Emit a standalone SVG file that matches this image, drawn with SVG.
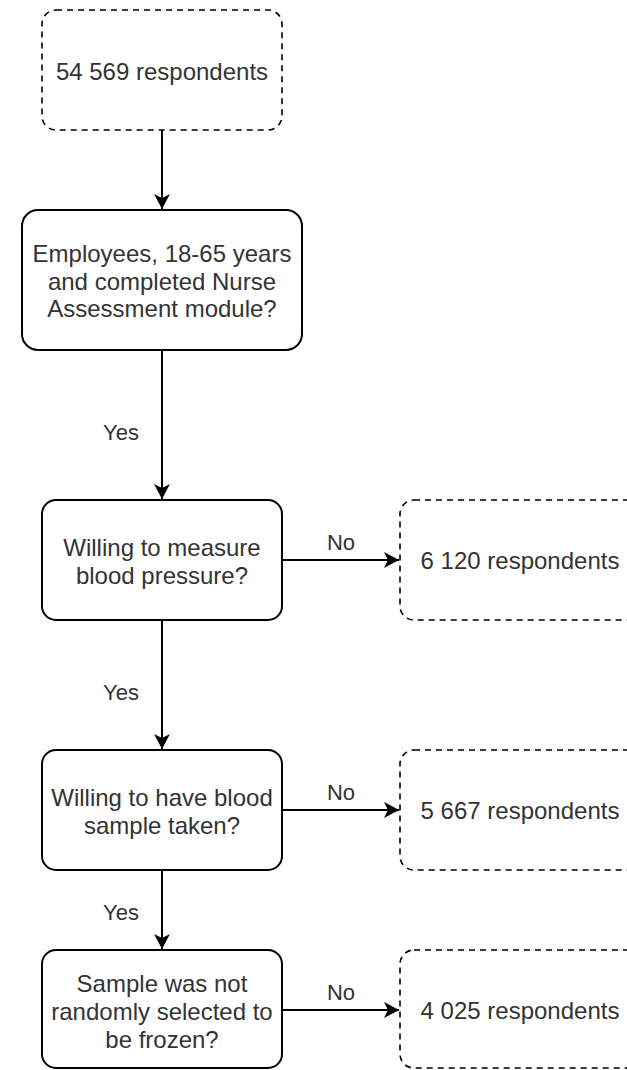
<svg xmlns="http://www.w3.org/2000/svg" width="627" height="1070" viewBox="0 0 627 1070">
<style>
.box{fill:#fff;stroke:#000;stroke-width:2}
.dash{fill:#fff;stroke:#000;stroke-width:1.6;stroke-dasharray:6 5}
.t{font-family:"Liberation Sans",Arial,sans-serif;font-size:24px;fill:#333;text-anchor:middle;dominant-baseline:central}
.lbl{font-family:"Liberation Sans",Arial,sans-serif;font-size:22px;fill:#333;text-anchor:middle;dominant-baseline:central}
.c{fill:none;stroke:#000;stroke-width:2}
</style>
<defs>
<marker id="arr" markerUnits="userSpaceOnUse" markerWidth="20" markerHeight="20" viewBox="-16 -10 20 20" refX="0" refY="0" orient="auto">
<path d="M0,0 L-15,-8 L-11,0 L-15,8 Z" fill="#000"/>
</marker>
</defs>
<rect width="627" height="1070" fill="#fff"/>
<g id="connectors">
<path class="c" d="M162,130 V209" marker-end="url(#arr)"/>
<path class="c" d="M162,350 V499" marker-end="url(#arr)"/>
<path class="c" d="M162,620 V749" marker-end="url(#arr)"/>
<path class="c" d="M162,870 V949" marker-end="url(#arr)"/>
<path class="c" d="M282,560 H399" marker-end="url(#arr)"/>
<path class="c" d="M282,810 H399" marker-end="url(#arr)"/>
<path class="c" d="M282,1010 H399" marker-end="url(#arr)"/>
<text class="lbl" x="121" y="432">Yes</text>
<text class="lbl" x="121" y="692">Yes</text>
<text class="lbl" x="121" y="912">Yes</text>
<text class="lbl" x="341" y="542">No</text>
<text class="lbl" x="341" y="792">No</text>
<text class="lbl" x="341" y="992">No</text>
</g>
<g id="start">
<rect class="dash" x="42" y="10" width="240" height="120" rx="14"/>
<text class="t" x="162" y="71">54 569 respondents</text>
</g>
<g id="q1">
<rect class="box" x="22" y="210" width="280" height="140" rx="16"/>
<text class="t" x="162" y="253">Employees, 18-65 years</text>
<text class="t" x="162" y="281">and completed Nurse</text>
<text class="t" x="162" y="308">Assessment module?</text>
</g>
<g id="q2">
<rect class="box" x="42" y="500" width="240" height="120" rx="14"/>
<text class="t" x="162" y="547">Willing to measure</text>
<text class="t" x="162" y="575">blood pressure?</text>
</g>
<g id="out1">
<rect class="dash" x="400" y="500" width="240" height="120" rx="14"/>
<text class="t" x="520" y="560">6 120 respondents</text>
</g>
<g id="q3">
<rect class="box" x="42" y="750" width="240" height="120" rx="14"/>
<text class="t" x="162" y="797">Willing to have blood</text>
<text class="t" x="162" y="825">sample taken?</text>
</g>
<g id="out2">
<rect class="dash" x="400" y="750" width="240" height="120" rx="14"/>
<text class="t" x="520" y="810">5 667 respondents</text>
</g>
<g id="q4">
<rect class="box" x="42" y="950" width="240" height="118" rx="14"/>
<text class="t" x="162" y="983">Sample was not</text>
<text class="t" x="162" y="1011">randomly selected to</text>
<text class="t" x="162" y="1039">be frozen?</text>
</g>
<g id="out3">
<rect class="dash" x="400" y="950" width="240" height="118" rx="14"/>
<text class="t" x="520" y="1010">4 025 respondents</text>
</g>
</svg>
